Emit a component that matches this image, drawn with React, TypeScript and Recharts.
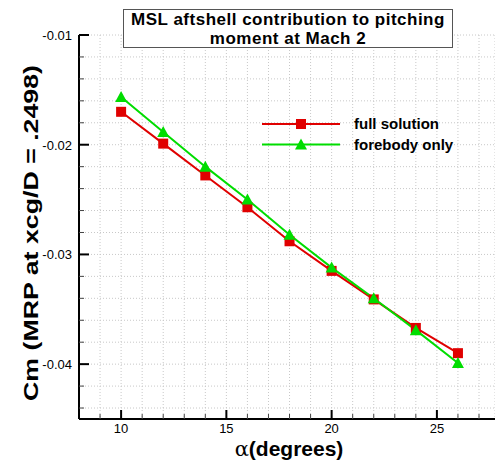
import { LineChart, Line, XAxis, YAxis, CartesianGrid } from 'recharts';

const alpha = [10, 12, 14, 16, 18, 20, 22, 24, 26];
const fullSolution = [-0.017, -0.0199, -0.0228, -0.0257, -0.0288, -0.0315, -0.0341, -0.0367, -0.039];
const forebodyOnly = [-0.01566, -0.01885, -0.022, -0.025, -0.0282, -0.0312, -0.034, -0.0369, -0.0399];

const xTicks = [9, 10, 11, 12, 13, 14, 15, 16, 17, 18, 19, 20, 21, 22, 23, 24, 25, 26, 27];
const xMajor = [10, 15, 20, 25];
const yTicks = [
  -0.044, -0.042, -0.04, -0.038, -0.036, -0.034, -0.032, -0.03, -0.028, -0.026,
  -0.024, -0.022, -0.02, -0.018, -0.016, -0.014, -0.012, -0.01,
];
const yMajor = [-0.04, -0.03, -0.02, -0.01];

const seriesNames = ['full solution', 'forebody only'];
const titleLines = ['MSL aftshell contribution to pitching', 'moment at Mach 2'];

const data = alpha.map((a, i) => ({ alpha: a, full: fullSolution[i], fore: forebodyOnly[i] }));

const FONT = '"Liberation Sans", Arial, Helvetica, sans-serif';
const RED = '#e00000';
const GREEN = '#00dd00';

const isYMajor = (v: number) => yMajor.some((m) => Math.abs(m - v) < 1e-9);

function YTick(props: any) {
  const { x, y, payload } = props;
  const major = isYMajor(payload.value);
  return (
    <g>
      <line x1={x} x2={x + (major ? 10 : 5)} y1={y} y2={y} stroke={major ? '#000' : '#444'} strokeWidth={major ? 2 : 1} />
      {major && (
        <text x={x - 7} y={y} dy={5} textAnchor="end" fontSize={13} fontFamily={FONT} fill="#000">
          {payload.value.toFixed(2)}
        </text>
      )}
    </g>
  );
}

function XTick(props: any) {
  const { x, y, payload } = props;
  const major = xMajor.includes(payload.value);
  return (
    <g>
      <line x1={x} x2={x} y1={y} y2={y - (major ? 9 : 5)} stroke={major ? '#000' : '#444'} strokeWidth={major ? 2 : 1} />
      {major && (
        <text x={x} y={y} dy={14} textAnchor="middle" fontSize={13} fontFamily={FONT} fill="#000">
          {payload.value}
        </text>
      )}
    </g>
  );
}

function Square(props: any) {
  const { cx, cy } = props;
  if (cx == null || cy == null) return null;
  return <rect x={cx - 5} y={cy - 5} width={10} height={10} fill={RED} />;
}

function Triangle(props: any) {
  const { cx, cy } = props;
  if (cx == null || cy == null) return null;
  return <polygon points={`${cx},${cy - 6} ${cx - 6},${cy + 5} ${cx + 6},${cy + 5}`} fill={GREEN} />;
}

function LegendBox() {
  const colors = [RED, GREEN];
  return (
    <svg width={200} height={44} style={{ position: 'absolute', left: 262, top: 116 }}>
      {seriesNames.map((name, i) => {
        const y = 8 + i * 20.5;
        return (
          <g key={name}>
            <line x1={0} x2={78} y1={y} y2={y} stroke={colors[i]} strokeWidth={2} />
            {i === 0 ? (
              <rect x={34} y={y - 5} width={10} height={10} fill={colors[i]} />
            ) : (
              <polygon points={`39,${y - 6} 33,${y + 5} 45,${y + 5}`} fill={colors[i]} />
            )}
            <text x={92} y={y} dy={5} fontSize={15} fontWeight="bold" fontFamily={FONT} fill="#000">
              {name}
            </text>
          </g>
        );
      })}
    </svg>
  );
}

export default function App() {
  return (
    <div style={{ position: 'absolute', left: 0, top: 0, width: 495, height: 461, background: '#fff' }}>
      <LineChart width={495} height={461} data={data} margin={{ top: 35, right: 0, bottom: 0, left: 0 }}>
        <CartesianGrid stroke="#c8c8c8" strokeDasharray="1 2" />
        <XAxis
          dataKey="alpha"
          type="number"
          domain={[8, 27.76]}
          ticks={xTicks}
          interval={0}
          height={42}
          tickSize={0}
          tickMargin={0}
          tickLine={false}
          tick={<XTick />}
          axisLine={{ stroke: '#000', strokeWidth: 2 }}
          allowDataOverflow
          label={{
            content: (p: any) => {
              const vb = p.viewBox;
              return (
                <text x={289} y={vb.y + 37} textAnchor="middle" fontSize={21} fontWeight="bold" fontFamily={FONT} fill="#000">
                  <tspan fontFamily='"DejaVu Serif", serif' fontWeight="normal">α</tspan>(degrees)
                </text>
              );
            },
          }}
        />
        <YAxis
          type="number"
          domain={[-0.045, -0.01]}
          ticks={yTicks}
          interval={0}
          width={79}
          tickSize={0}
          tickMargin={0}
          tickLine={false}
          tick={<YTick />}
          axisLine={{ stroke: '#000', strokeWidth: 2 }}
          allowDataOverflow
          label={{
            content: () => (
              <text
                x={0}
                y={0}
                transform="translate(38,233) rotate(-90)"
                textAnchor="middle"
                fontSize={21}
                fontWeight="bold"
                fontFamily={FONT}
                fill="#000"
                textLength={336}
                lengthAdjust="spacingAndGlyphs"
              >
                Cm (MRP at xcg/D = .2498)
              </text>
            ),
          }}
        />
        <Line
          name={seriesNames[0]}
          dataKey="full"
          stroke={RED}
          strokeWidth={2}
          dot={<Square />}
          activeDot={false}
          isAnimationActive={false}
        />
        <Line
          name={seriesNames[1]}
          dataKey="fore"
          stroke={GREEN}
          strokeWidth={2}
          dot={<Triangle />}
          activeDot={false}
          isAnimationActive={false}
        />
      </LineChart>
      <LegendBox />
      <div
        style={{
          position: 'absolute',
          left: 123,
          top: 9,
          width: 328,
          height: 37,
          border: '1px solid #555',
          background: '#fff',
          fontFamily: FONT,
          fontWeight: 'bold',
          fontSize: 17,
          letterSpacing: 0.5,
          lineHeight: '19px',
          textAlign: 'center',
          color: '#000',
        }}
      >
        {titleLines.map((t) => (
          <div key={t}>{t}</div>
        ))}
      </div>
    </div>
  );
}
